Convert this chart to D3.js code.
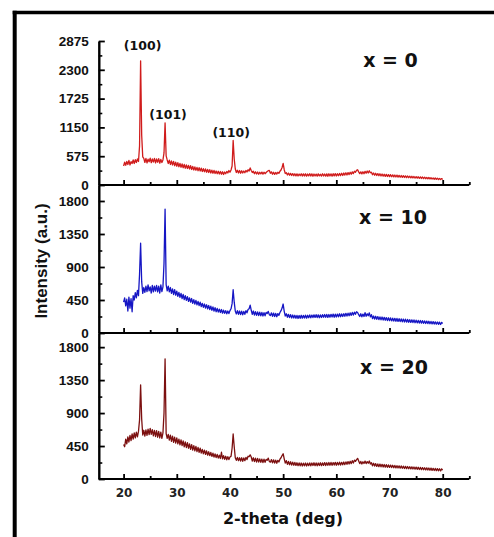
<!DOCTYPE html>
<html>
<head>
<meta charset="utf-8">
<script src="https://cdn.jsdelivr.net/npm/d3@7/dist/d3.min.js"></script>
<style>
  html, body { margin: 0; padding: 0; background: #fff; }
  svg { display: block; }
</style>
</head>
<body>
<svg id="chart" width="494" height="537"></svg>
<script>
// XRD scans: intensity recorded every 0.2 deg from 20 to 80 deg (2-theta)
const scanStart = 20;
const scanStep = 0.2;

const sampleLabels = ["x = 0", "x = 10", "x = 20"];
const lineColors = ["#d01c1c", "#1616c4", "#7c1010"];

const intensityX0 = [
  380, 455, 395, 470, 410, 490, 400, 465, 430, 500,
  430, 505, 450, 520, 470, 780, 2480, 1000, 560, 530,
  450, 530, 440, 515, 465, 535, 445, 520, 460, 530,
  440, 520, 455, 525, 435, 510, 450, 500, 640, 1240,
  580, 500, 430, 495, 410, 480, 400, 470, 385, 455,
  375, 445, 365, 430, 355, 420, 345, 410, 335, 400,
  330, 390, 320, 385, 310, 370, 300, 360, 295, 350,
  285, 345, 280, 335, 270, 325, 265, 320, 255, 310,
  250, 305, 240, 295, 235, 290, 230, 280, 225, 275,
  220, 270, 215, 265, 210, 260, 225, 270, 240, 290,
  255, 300, 380, 890, 520, 320, 250, 295, 240, 290,
  235, 285, 240, 280, 245, 290, 260, 305, 280, 340,
  290, 250, 275, 225, 265, 220, 260, 215, 255, 222,
  258, 218, 255, 225, 250, 270, 285, 290, 235, 262,
  215, 255, 212, 250, 218, 255, 232, 275, 300, 350,
  430, 305, 230, 245, 200, 238, 195, 232, 190, 228,
  185, 225, 182, 222, 180, 220, 185, 225, 178, 222,
  180, 224, 176, 220, 182, 226, 178, 222, 175, 220,
  180, 218, 176, 222, 182, 215, 178, 225, 180, 220,
  176, 222, 174, 224, 180, 222, 176, 226, 182, 228,
  180, 226, 184, 230, 188, 235, 190, 240, 198, 244,
  200, 248, 208, 255, 215, 262, 228, 275, 255, 292,
  305, 262, 228, 262, 222, 265, 225, 272, 235, 280,
  240, 285, 245, 255, 205, 240, 195, 235, 190, 228,
  185, 225, 180, 220, 176, 215, 172, 212, 170, 208,
  168, 206, 165, 202, 162, 200, 160, 196, 158, 192,
  155, 190, 152, 186, 150, 182, 148, 180, 145, 176,
  142, 174, 140, 170, 138, 168, 135, 165, 132, 162,
  130, 160, 128, 156, 125, 152, 122, 150, 120, 146,
  118, 142, 115, 140, 112, 136, 110, 132, 108, 128,
  110
];

const intensityX10 = [
  420, 480, 370, 460, 300, 490, 340, 470, 290, 510,
  450, 550, 480, 580, 510, 800, 1225, 700, 540, 620,
  555, 640, 565, 655, 575, 630, 545, 650, 560, 640,
  570, 650, 560, 640, 545, 655, 565, 630, 950, 1690,
  660, 575, 640, 560, 620, 540, 600, 525, 590, 515,
  570, 500, 555, 485, 540, 470, 525, 455, 510, 445,
  495, 430, 480, 420, 470, 405, 455, 395, 445, 385,
  430, 375, 420, 360, 405, 350, 395, 340, 385, 330,
  375, 320, 365, 310, 355, 300, 345, 290, 335, 285,
  325, 280, 320, 270, 312, 268, 305, 262, 300, 265,
  305, 330, 400, 590, 420, 300, 260, 305, 255, 300,
  250, 298, 248, 295, 255, 305, 275, 320, 330, 380,
  310, 255, 300, 245, 292, 240, 288, 238, 285, 235,
  280, 232, 278, 235, 282, 265, 295, 250, 238, 275,
  228, 272, 225, 268, 222, 265, 240, 280, 305, 340,
  395, 295, 232, 262, 215, 255, 210, 250, 205, 245,
  205, 242, 200, 240, 198, 238, 200, 242, 202, 240,
  205, 244, 202, 242, 208, 246, 206, 244, 210, 248,
  212, 250, 210, 248, 208, 246, 212, 250, 215, 252,
  214, 254, 212, 252, 216, 255, 218, 258, 215, 256,
  218, 258, 220, 262, 222, 260, 225, 264, 228, 268,
  230, 270, 235, 275, 240, 280, 245, 285, 255, 290,
  280, 250, 225, 262, 220, 258, 225, 278, 228, 262,
  235, 275, 220, 250, 195, 232, 190, 228, 186, 224,
  182, 220, 180, 218, 176, 214, 174, 210, 170, 208,
  168, 205, 165, 202, 162, 200, 160, 198, 158, 195,
  155, 192, 152, 190, 150, 188, 148, 185, 146, 182,
  144, 180, 142, 178, 140, 175, 138, 172, 136, 170,
  134, 168, 132, 165, 130, 162, 128, 160, 126, 158,
  124, 155, 122, 152, 120, 150, 118, 148, 116, 145,
  130
];

const intensityX20 = [
  470, 440, 545, 480, 575, 505, 595, 525, 615, 545,
  630, 560, 640, 575, 650, 806, 1285, 820, 600, 665,
  585, 670, 595, 680, 605, 690, 610, 675, 590, 665,
  580, 660, 570, 650, 560, 640, 555, 630, 900, 1640,
  620, 555, 610, 530, 600, 515, 585, 500, 570, 490,
  560, 480, 545, 465, 535, 455, 520, 440, 505, 430,
  495, 420, 480, 405, 470, 395, 455, 385, 445, 375,
  430, 365, 420, 355, 405, 345, 395, 335, 385, 325,
  372, 318, 362, 308, 352, 300, 342, 292, 335, 285,
  325, 280, 365, 275, 318, 268, 310, 262, 305, 265,
  300, 310, 420, 615, 440, 290, 255, 295, 250, 290,
  245, 290, 242, 288, 250, 295, 265, 310, 305, 330,
  300, 245, 290, 238, 285, 232, 280, 230, 275, 228,
  272, 225, 270, 228, 268, 255, 285, 240, 230, 265,
  220, 262, 218, 258, 215, 255, 232, 270, 290, 320,
  345, 275, 218, 250, 200, 240, 195, 235, 190, 230,
  188, 226, 185, 222, 182, 220, 180, 218, 178, 216,
  180, 218, 178, 216, 182, 220, 180, 218, 184, 222,
  182, 220, 180, 218, 184, 222, 182, 220, 186, 224,
  184, 222, 186, 225, 188, 226, 186, 224, 190, 228,
  188, 226, 192, 230, 190, 228, 194, 232, 196, 234,
  200, 238, 205, 242, 210, 250, 218, 258, 240, 265,
  282, 245, 210, 240, 205, 235, 212, 245, 210, 238,
  215, 245, 205, 222, 180, 215, 176, 210, 172, 206,
  168, 204, 166, 200, 164, 198, 162, 195, 160, 192,
  158, 190, 156, 188, 154, 185, 152, 182, 150, 180,
  148, 178, 146, 175, 144, 172, 142, 170, 140, 168,
  138, 166, 136, 164, 134, 162, 132, 160, 130, 158,
  128, 156, 126, 154, 124, 152, 122, 150, 120, 148,
  118, 146, 116, 144, 114, 142, 112, 140, 110, 138,
  122
];

const series = [intensityX0, intensityX10, intensityX20];

// axis ticks
const xMajorTicks = [20, 30, 40, 50, 60, 70, 80];
const xMinorTicks = [25, 35, 45, 55, 65, 75, 85];
const yMajorTicks = [
  [0, 575, 1150, 1725, 2300, 2875],
  [0, 450, 900, 1350, 1800],
  [0, 450, 900, 1350, 1800]
];
const yMinorTicks = [
  [287.5, 862.5, 1437.5, 2012.5, 2587.5],
  [225, 675, 1125, 1575],
  [225, 675, 1125, 1575]
];

// Miller indices marked on the x = 0 pattern
const reflectionLabels = ["(100)", "(101)", "(110)"];
const reflectionAngles = [23.2, 27.8, 40.6];

// --- layout ---
const svg = d3.select("#chart");
const x = d3.scaleLinear().domain([15, 85]).range([97, 469.3]);

const panels = [
  { domain: [0, 2875], range: [185, 41] },
  { domain: [0, 2018], range: [333, 185] },
  { domain: [0, 1993], range: [479, 333] }
];
const yScales = panels.map(p => d3.scaleLinear().domain(p.domain).range(p.range));

// outer frame (top and left edges)
svg.append("line").attr("x1", 12.7).attr("x2", 494).attr("y1", 12.5).attr("y2", 12.5)
  .attr("stroke", "#000").attr("stroke-width", 3.6);
svg.append("line").attr("x1", 14.7).attr("x2", 14.7).attr("y1", 10.7).attr("y2", 537)
  .attr("stroke", "#000").attr("stroke-width", 4);

const angleOf = i => scanStart + i * scanStep;

series.forEach((vals, k) => {
  const y = yScales[k];
  const g = svg.append("g");

  // pattern
  const line = d3.line()
    .x((d, i) => x(angleOf(i)))
    .y(d => y(d));
  g.append("path")
    .datum(vals)
    .attr("d", line)
    .attr("fill", "none")
    .attr("stroke", lineColors[k])
    .attr("stroke-width", 1.3)
    .attr("stroke-linejoin", "round");

  // y axis (ticks point into the plot)
  const yAxis = d3.axisLeft(y)
    .tickValues(yMajorTicks[k])
    .tickSizeInner(-6)
    .tickSizeOuter(0)
    .tickPadding(10)
    .tickFormat(d3.format("d"));
  const ya = g.append("g").attr("transform", "translate(98.8,0)").call(yAxis);
  ya.select(".domain").attr("stroke-width", 2.4);
  ya.selectAll(".tick line").attr("stroke-width", 1.8);
  ya.selectAll(".tick text")
    .attr("font-family", "'Liberation Sans', Arial, sans-serif")
    .attr("font-weight", "bold")
    .attr("font-size", 13.5)
    .attr("fill", "#111");

  const yMinor = d3.axisLeft(y)
    .tickValues(yMinorTicks[k])
    .tickSizeInner(-3.5)
    .tickSizeOuter(0)
    .tickFormat("");
  const ym = g.append("g").attr("transform", "translate(98.8,0)").call(yMinor);
  ym.select(".domain").remove();
  ym.selectAll(".tick line").attr("stroke-width", 1.6);

  // x axis along the bottom of each panel
  const xAxis = d3.axisBottom(x)
    .tickValues(xMajorTicks)
    .tickSizeInner(-5)
    .tickSizeOuter(0)
    .tickPadding(9)
    .tickFormat(k === 2 ? d3.format("d") : "");
  const xa = g.append("g").attr("transform", `translate(0,${y(0)})`).call(xAxis);
  xa.select(".domain").attr("d", `M98.8,0H${x(85)}`).attr("stroke-width", 2.2);
  xa.selectAll(".tick line").attr("stroke-width", 1.8);
  xa.selectAll(".tick text")
    .attr("font-family", "'DejaVu Sans', Verdana, sans-serif")
    .attr("font-weight", "bold")
    .attr("font-size", 12)
    .attr("fill", "#222");

  const xMinor = d3.axisBottom(x)
    .tickValues(xMinorTicks)
    .tickSizeInner(-3)
    .tickSizeOuter(0)
    .tickFormat("");
  const xm = g.append("g").attr("transform", `translate(0,${y(0)})`).call(xMinor);
  xm.select(".domain").remove();
  xm.selectAll(".tick line").attr("stroke-width", 1.8);

  // sample label
  g.append("text")
    .attr("x", [390.5, 393, 394][k])
    .attr("y", [66.5, 224, 374][k])
    .attr("text-anchor", "middle")
    .attr("font-family", "'DejaVu Sans', Verdana, sans-serif")
    .attr("font-weight", "bold")
    .attr("font-size", 19)
    .attr("fill", "#111")
    .text(sampleLabels[k]);
});

// reflection labels above the x = 0 peaks
const labelY = [49.5, 119, 136.5];
const labelDx = [2, 3, -2];
reflectionLabels.forEach((t, i) => {
  svg.append("text")
    .attr("x", x(reflectionAngles[i]) + labelDx[i])
    .attr("y", labelY[i])
    .attr("text-anchor", "middle")
    .attr("font-family", "'DejaVu Sans', Verdana, sans-serif")
    .attr("font-weight", "bold")
    .attr("font-size", 12.5)
    .attr("fill", "#111")
    .text(t);
});

// axis titles
svg.append("text")
  .attr("transform", "translate(47,261) rotate(-90)")
  .attr("text-anchor", "middle")
  .attr("font-family", "'Liberation Sans', Arial, sans-serif")
  .attr("font-weight", "bold")
  .attr("font-size", 17)
  .attr("fill", "#111")
  .text("Intensity (a.u.)");

svg.append("text")
  .attr("x", 283)
  .attr("y", 524.3)
  .attr("text-anchor", "middle")
  .attr("font-family", "'DejaVu Sans', Verdana, sans-serif")
  .attr("font-weight", "bold")
  .attr("font-size", 16)
  .attr("fill", "#111")
  .text("2-theta (deg)");
</script>
</body>
</html>
